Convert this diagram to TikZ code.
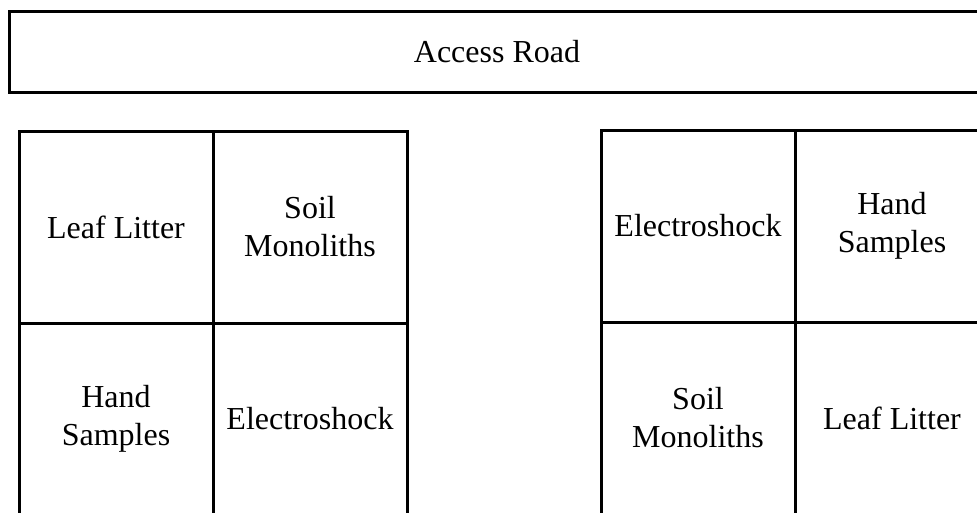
\documentclass[tikz,border=0pt]{standalone}
\usepackage{fontspec}
\setmainfont{Liberation Serif}
\usepackage{tikz}

\tikzset{
  plotcell/.style={draw, line width=3pt, minimum width=194pt, minimum height=192pt,
    inner sep=0pt, align=center, font=\fontsize{32}{38}\selectfont},
  roadbox/.style={draw, line width=3pt, minimum width=976pt, minimum height=81pt,
    inner sep=0pt, font=\fontsize{32}{38}\selectfont}
}

\begin{document}
\begin{tikzpicture}[x=1pt, y=-1pt]
\useasboundingbox (0,0) rectangle (977,512);
\node[roadbox] (road) at (497,51.5) {Access Road};
% left plot
\node[plotcell] (lLeaf) at (116,227) {Leaf Litter};
\node[plotcell] (lSoil) at (310,227) {Soil\\Monoliths};
\node[plotcell] (lHand) at (116,419) {Hand\\Samples};
\node[plotcell] (lElectro) at (310,419) {Electroshock};
% right plot
\node[plotcell] (rElectro) at (698,226) {Electroshock};
\node[plotcell] (rHand) at (892,226) {Hand\\Samples};
\node[plotcell] (rSoil) at (698,418) {Soil\\Monoliths};
\node[plotcell] (rLeaf) at (892,418) {Leaf Litter};
\end{tikzpicture}
\end{document}
